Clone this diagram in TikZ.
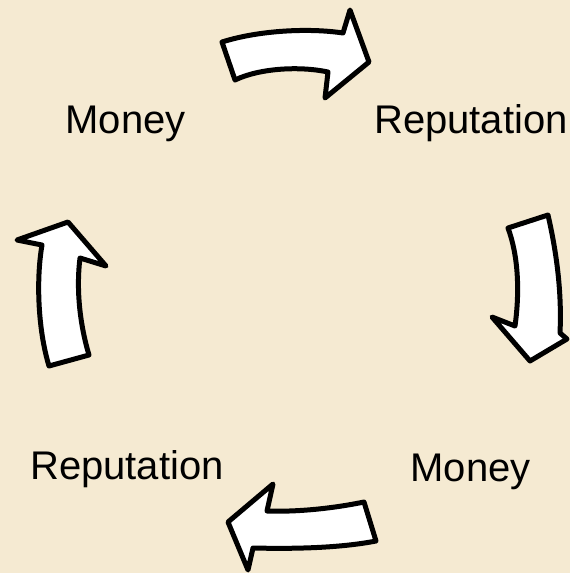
\documentclass[tikz,border=0pt]{standalone}
\usepackage{fontspec}
\setmainfont{Liberation Sans}
\usetikzlibrary{positioning}
\definecolor{paper}{RGB}{245,234,210}
\definecolor{ink}{RGB}{0,0,0}
\tikzset{
  every picture/.style={x=1pt, y=-1pt},
  word/.style={font=\fontsize{40}{48}\selectfont, text=ink, inner sep=0pt, anchor=base},
  turnarrow/.style={draw=ink, fill=white, line width=5pt, line join=round},
}

\begin{document}
\begin{tikzpicture}
  \fill[paper] (0,0) rectangle (570,573);
  \useasboundingbox (0,0) rectangle (570,573);

  % the four words round the circle
  \node[word] (money1) at (125.5,133) {Money};
  \node[word] (rep1) at (471,133) {Reputation};
  \node[word] (money2) at (470.5,481) {Money};
  \node[word] (rep2) at (127,479) {Reputation};

  % top: money -> reputation
  \draw[turnarrow] (222,42) .. controls (260,30) and (310,28) .. (343,33) -- (350,10) -- (369,62)
    -- (325,98) -- (328,72) .. controls (300,66) and (260,68) .. (235,80) -- cycle;
  % right: reputation -> money
  \draw[turnarrow] (508,228) -- (548,215) .. controls (556,250) and (562,290) .. (560,333)
    -- (567,339) -- (530,361) -- (492,317) -- (515,326) .. controls (520,290) and (518,255) .. (508,228) -- cycle;
  % bottom: money -> reputation
  \draw[turnarrow] (364,502) .. controls (330,509) and (295,512) .. (267,511) -- (273,484) -- (228,522)
    -- (248,570) -- (253,548) .. controls (295,549) and (340,548) .. (376,541) -- cycle;
  % left: reputation -> money
  \draw[turnarrow] (49,366) -- (89,355) .. controls (80,325) and (76,290) .. (80,258) -- (106,266)
    -- (68,222) -- (17,240) -- (42,245) .. controls (36,280) and (38,330) .. (49,366) -- cycle;
\end{tikzpicture}
\end{document}
